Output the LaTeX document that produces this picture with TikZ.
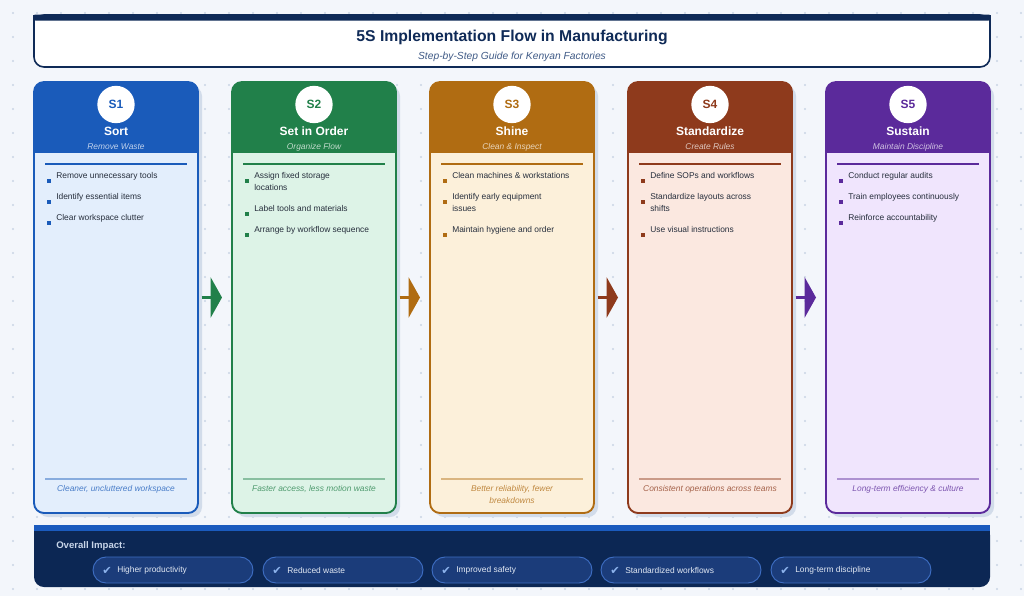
\documentclass[tikz,border=0pt]{standalone}
\usepackage{fontspec}
\setmainfont{Liberation Sans}
\newfontfamily\symfont{DejaVu Sans}
\usetikzlibrary{arrows.meta,calc}
\definecolor{bg}{HTML}{F3F6FB}
\definecolor{dotc}{HTML}{C9D4E4}
\definecolor{navy}{HTML}{0F2A57}
\definecolor{subc}{HTML}{3F5A86}
\definecolor{ink}{HTML}{262E3C}
\definecolor{shadowc}{HTML}{D2DCEA}
\definecolor{cA}{HTML}{1A5BBA}\definecolor{bA}{HTML}{E3EEFC}
\definecolor{cB}{HTML}{21804A}\definecolor{bB}{HTML}{DDF3E7}
\definecolor{cC}{HTML}{B06C12}\definecolor{bC}{HTML}{FCF0DA}
\definecolor{cD}{HTML}{8E3A1C}\definecolor{bD}{HTML}{FBE8E0}
\definecolor{cE}{HTML}{5B2A9B}\definecolor{bE}{HTML}{F0E5FD}
\definecolor{panel}{HTML}{0C2754}
\definecolor{panelbar}{HTML}{1B5BBE}
\definecolor{pillf}{HTML}{1B3C7A}
\definecolor{pilld}{HTML}{3E6EC3}
\definecolor{pillt}{HTML}{E2E9F4}
\definecolor{chkc}{HTML}{8DB3EC}
\definecolor{impact}{HTML}{C8D5E9}
\tikzset{
  maintitle/.style={font=\fontsize{11.8}{13}\selectfont\bfseries, text=navy, inner sep=0},
  subtitle/.style={font=\fontsize{7.7}{9}\selectfont\itshape, text=subc, inner sep=0},
  cardbox/.style={rectangle, draw=none, inner sep=0, outer sep=0, minimum width=123pt, minimum height=323.25pt},
  badge/.style={circle, fill=white, minimum size=28pt, inner sep=0, font=\fontsize{9}{10}\selectfont\bfseries},
  ctitle/.style={font=\fontsize{9}{10}\selectfont\bfseries, text=white, inner sep=0, text height=6.6pt, text depth=1.9pt},
  csub/.style={font=\fontsize{6.3}{8}\selectfont\itshape, inner sep=0, text height=4.6pt, text depth=1.3pt},
  cfoot/.style={font=\fontsize{6.3}{9}\selectfont\itshape, inner sep=0, align=center},
  itm/.style={anchor=north west, inner sep=0, align=left, font=\fontsize{6.3}{9}\selectfont, text=ink},
  bul/.style={rectangle, minimum size=3.6pt, inner sep=0, draw=none},
  flow/.style={line width=2.2pt, -{Triangle[length=8.5pt,width=30pt]}},
  pill/.style={rectangle, rounded corners=9.75pt, minimum width=120pt, minimum height=19.5pt, fill=pillf, draw=pilld, line width=0.7pt, inner sep=0},
  ptxt/.style={anchor=west, inner sep=0, font=\fontsize{6.3}{8}\selectfont, text=pillt},
  chk/.style={inner sep=0, font=\symfont\fontsize{8.5}{9}\selectfont, text=chkc},
}
\newcommand\mkcard[7]{%
  \fill[shadowc, rounded corners=7.5pt] (#2+4,86) rectangle (#2+168,517);
  \fill[#4, rounded corners=7.5pt] (#2,82) rectangle (#2+164,513);
  \fill[#3, rounded corners=7.5pt] (#2,82) rectangle (#2+164,165);
  \fill[#4] (#2,153) rectangle (#2+164,170);
  \draw[#3, line width=1.4pt, rounded corners=7.5pt] (#2,82) rectangle (#2+164,513);
  \node[cardbox] (card#1) at (#2+82,297.5) {};
  \node[badge, text=#3] (badge#1) at (#2+82,104.5) {S#1};
  \node[ctitle] (title#1) at (#2+82,132.5) {#5};
  \node[csub, text=white!72!#3] (sub#1) at (#2+82,147.5) {#6};
  \draw[#3, line width=0.8pt] (#2+11,164) -- (#2+153,164);
  \draw[#3!45!#4, line width=0.8pt] (#2+11,479) -- (#2+153,479);
  \node[cfoot, text=#3!80!white, anchor=north] (foot#1) at (#2+82,485.5) {#7};
}
\newcommand\itm[5]{%
  \node[bul, fill=#4] (b#1) at (#2+15,#3+11) {};
  \node[itm] (i#1) at (#2+22,#3+2) {#5};
}
\newcommand\mkpill[3]{%
  \node[pill] (pill#1) at (#2+80,570) {};
  \node[chk] (chk#1) at (#2+14,570.5) {✔};
  \node[ptxt] (ptxt#1) at (#2+24,570) {#3};
}
\begin{document}
\begin{tikzpicture}[x=0.75pt,y=-0.75pt]
\fill[bg] (0,0) rectangle (1024,596);
\useasboundingbox (0,0) rectangle (1024,596);
\foreach \i in {0,...,42}{\foreach \j in {0,...,24}{\fill[dotc] (13+24*\i,13+24*\j) circle (0.9pt);}}
% header
\filldraw[fill=white, draw=navy, line width=1.2pt, rounded corners=7.5pt] (34,15) rectangle (990,67);
\fill[white] (34.8,18) rectangle (989.2,40);
\draw[navy, line width=1.2pt] (34,15) -- (34,40) (990,15) -- (990,40);
\fill[navy, rounded corners=1.5pt] (33.4,14.5) rectangle (990.6,20.5);
\node[maintitle] (title) at (512,37.5) {5S Implementation Flow in Manufacturing};
\node[subtitle] (subtitle) at (512,56.5) {Step-by-Step Guide for Kenyan Factories};
% cards
\mkcard{1}{34}{cA}{bA}{Sort}{Remove Waste}{Cleaner, uncluttered workspace}
\mkcard{2}{232}{cB}{bB}{Set in Order}{Organize Flow}{Faster access, less motion waste}
\mkcard{3}{430}{cC}{bC}{Shine}{Clean \& Inspect}{Better reliability, fewer\\breakdowns}
\mkcard{4}{628}{cD}{bD}{Standardize}{Create Rules}{Consistent operations across teams}
\mkcard{5}{826}{cE}{bE}{Sustain}{Maintain Discipline}{Long-term efficiency \& culture}
% items
\itm{11}{34}{170}{cA}{Remove unnecessary tools}
\itm{12}{34}{191}{cA}{Identify essential items}
\itm{13}{34}{212}{cA}{Clear workspace clutter}
\itm{21}{232}{170}{cB}{Assign fixed storage\\locations}
\itm{22}{232}{203}{cB}{Label tools and materials}
\itm{23}{232}{224}{cB}{Arrange by workflow sequence}
\itm{31}{430}{170}{cC}{Clean machines \& workstations}
\itm{32}{430}{191}{cC}{Identify early equipment\\issues}
\itm{33}{430}{224}{cC}{Maintain hygiene and order}
\itm{41}{628}{170}{cD}{Define SOPs and workflows}
\itm{42}{628}{191}{cD}{Standardize layouts across\\shifts}
\itm{43}{628}{224}{cD}{Use visual instructions}
\itm{51}{826}{170}{cE}{Conduct regular audits}
\itm{52}{826}{191}{cE}{Train employees continuously}
\itm{53}{826}{212}{cE}{Reinforce accountability}
% arrows
\draw[flow, cB] ($(card1.east)+(3.5,0)$) -- ($(card2.west)+(-10,0)$);
\draw[flow, cC] ($(card2.east)+(3.5,0)$) -- ($(card3.west)+(-10,0)$);
\draw[flow, cD] ($(card3.east)+(3.5,0)$) -- ($(card4.west)+(-10,0)$);
\draw[flow, cE] ($(card4.east)+(3.5,0)$) -- ($(card5.west)+(-10,0)$);
% bottom panel
\fill[panel, rounded corners=7.5pt] (34,525) rectangle (990,587);
\fill[panel] (34,525) rectangle (990,545);
\fill[panelbar] (34,525) rectangle (990,530.5);
\node[anchor=west, inner sep=0, font=\fontsize{7.2}{8}\selectfont\bfseries, text=impact] (impact) at (56,546) {Overall Impact:};
\mkpill{1}{93}{Higher productivity}
\mkpill{2}{263}{Reduced waste}
\mkpill{3}{432}{Improved safety}
\mkpill{4}{601}{Standardized workflows}
\mkpill{5}{771}{Long-term discipline}
\end{tikzpicture}
\end{document}
